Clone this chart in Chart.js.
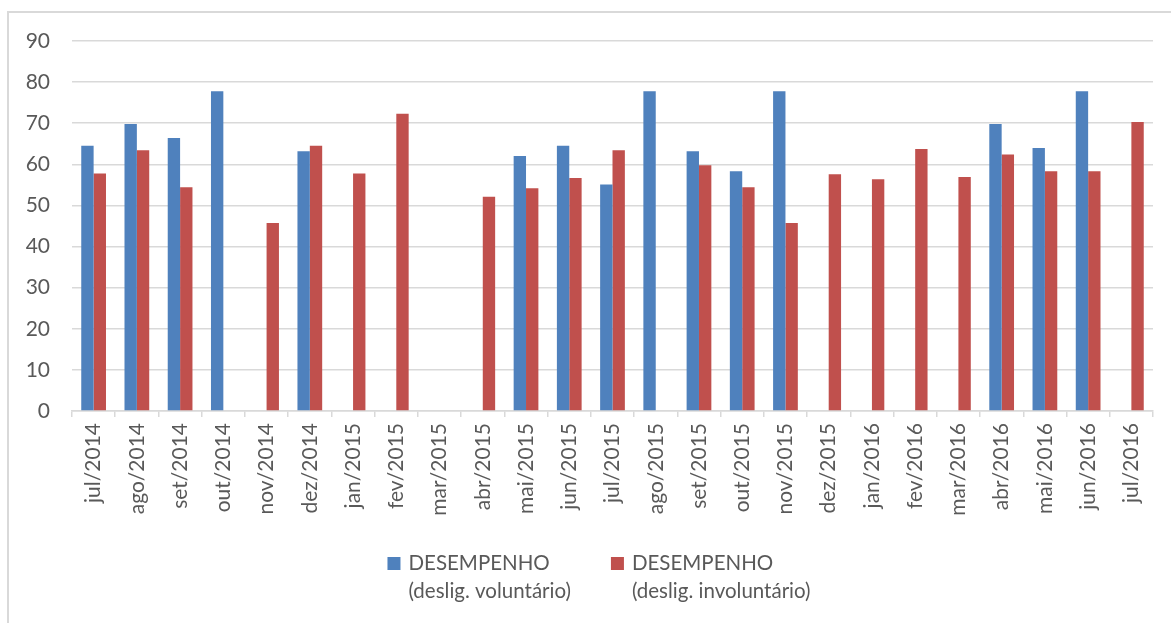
<!DOCTYPE html>
<html>
<head>
<meta charset="utf-8">
<script src="https://cdn.jsdelivr.net/npm/chart.js@4/dist/chart.umd.min.js"></script>
<style>
  html, body { margin: 0; padding: 0; background: #ffffff; }
  #wrap { position: relative; width: 1171px; height: 623px; }
</style>
</head>
<body>
<div id="wrap"><canvas id="c" width="1171" height="623"></canvas></div>
<script>
// Monthly categories
const months = [
  'jul/2014', 'ago/2014', 'set/2014', 'out/2014', 'nov/2014', 'dez/2014',
  'jan/2015', 'fev/2015', 'mar/2015', 'abr/2015', 'mai/2015', 'jun/2015',
  'jul/2015', 'ago/2015', 'set/2015', 'out/2015', 'nov/2015', 'dez/2015',
  'jan/2016', 'fev/2016', 'mar/2016', 'abr/2016', 'mai/2016', 'jun/2016',
  'jul/2016'
];

// Performance score, voluntary terminations (null = no record that month)
const voluntario = [
  64.5, 69.8, 66.4, 77.8, null, 63.2,
  null, null, null, null, 62.0, 64.5,
  55.1, 77.8, 63.2, 58.3, 77.8, null,
  null, null, null, 69.8, 64.0, 77.8,
  null
];

// Performance score, involuntary terminations
const involuntario = [
  57.8, 63.4, 54.4, null, 45.7, 64.5,
  57.8, 72.3, null, 52.1, 54.2, 56.7,
  63.4, null, 59.8, 54.4, 45.7, 57.6,
  56.4, 63.7, 56.9, 62.4, 58.3, 58.3,
  70.3
];

// Legend text, one entry per series, split into lines
const seriesLabels = [
  ['DESEMPENHO', '(deslig. voluntário)'],
  ['DESEMPENHO', '(deslig. involuntário)']
];

const yTicks = [0, 10, 20, 30, 40, 50, 60, 70, 80, 90];

const BLUE = '#4F81BD';
const RED = '#C0504D';
const GRID = '#d9d9d9';
const TEXT = '#595959';
const FONT = 'Lato, "Open Sans", sans-serif';

// Light frame around the whole chart
const framePlugin = {
  id: 'frame',
  beforeDraw(chart) {
    const ctx = chart.ctx;
    ctx.save();
    ctx.strokeStyle = GRID;
    ctx.lineWidth = 2;
    ctx.strokeRect(8, 12, 1400, 800);
    ctx.restore();
  }
};

// Two-line legend below the axis labels
const legendPlugin = {
  id: 'twoLineLegend',
  afterDraw(chart) {
    const ctx = chart.ctx;
    ctx.save();
    ctx.font = '20.5px ' + FONT;
    const box = 13, gapBox = 8, gapItems = 40, lineGap = 28;
    const widths = seriesLabels.map(lines => Math.max(...lines.map(l => ctx.measureText(l).width)));
    const total = widths.reduce((s, w) => s + box + gapBox + w, 0) + gapItems * (widths.length - 1);
    let x = 599 - total / 2;
    const baseline = 570;
    chart.data.datasets.forEach((ds, i) => {
      ctx.fillStyle = ds.backgroundColor;
      ctx.fillRect(x, baseline - 13, box, box);
      ctx.fillStyle = TEXT;
      ctx.textBaseline = 'alphabetic';
      ctx.textAlign = 'left';
      seriesLabels[i].forEach((line, k) => {
        ctx.fillText(line, x + box + gapBox, baseline + k * lineGap);
      });
      x += box + gapBox + widths[i] + gapItems;
    });
    ctx.restore();
  }
};

new Chart(document.getElementById('c'), {
  type: 'bar',
  data: {
    labels: months,
    datasets: [
      {
        label: seriesLabels[0].join(' '),
        data: voluntario,
        backgroundColor: BLUE,
        categoryPercentage: 0.572,
        barPercentage: 1.0
      },
      {
        label: seriesLabels[1].join(' '),
        data: involuntario,
        backgroundColor: RED,
        categoryPercentage: 0.572,
        barPercentage: 1.0
      }
    ]
  },
  options: {
    responsive: false,
    animation: false,
    devicePixelRatio: 1,
    layout: { padding: { left: 0, right: 18, top: 41, bottom: 0 } },
    plugins: {
      legend: { display: false },
      tooltip: { enabled: false }
    },
    scales: {
      x: {
        grid: {
          display: true,
          drawOnChartArea: false,
          drawTicks: true,
          tickLength: 6,
          color: GRID,
          lineWidth: 1.5
        },
        border: { display: true, color: GRID, width: 1.5 },
        ticks: {
          autoSkip: false,
          minRotation: 90,
          maxRotation: 90,
          padding: 6,
          color: TEXT,
          font: { family: FONT, size: 21 }
        },
        afterFit(scale) { scale.height = 212; }
      },
      y: {
        min: 0,
        max: 90,
        afterBuildTicks(scale) { scale.ticks = yTicks.map(v => ({ value: v })); },
        grid: { color: GRID, lineWidth: 1.5, drawTicks: false },
        border: { display: false },
        ticks: {
          padding: 22,
          color: TEXT,
          font: { family: FONT, size: 21 }
        },
        afterFit(scale) { scale.width = 72; }
      }
    }
  },
  plugins: [framePlugin, legendPlugin]
});
</script>
</body>
</html>
